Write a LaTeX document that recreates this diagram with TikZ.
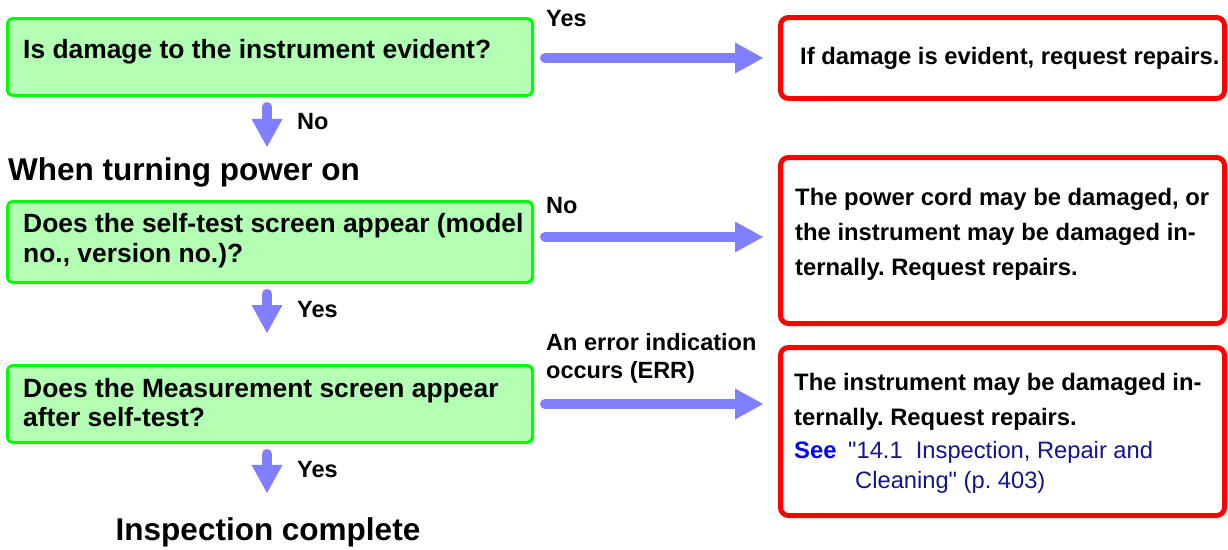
\documentclass[tikz,border=0pt]{standalone}
\usepackage{fontspec}
\setmainfont{Liberation Sans}
\newfontfamily\reffont{Liberation Sans}[Ligatures=TeXOff]
\usetikzlibrary{arrows.meta,calc}
\definecolor{boxgreen}{RGB}{0,255,0}
\definecolor{fillgreen}{RGB}{179,255,179}
\definecolor{arrowblue}{RGB}{128,128,255}
\definecolor{seeblue}{RGB}{0,0,255}
\definecolor{refnavy}{RGB}{20,20,140}
\frenchspacing
\begin{document}
\begin{tikzpicture}[x=1pt,y=-1pt,
  qbox/.style={draw=boxgreen,fill=fillgreen,line width=3pt,rounded corners=5pt,inner sep=0pt},
  abox/.style={draw=red,line width=5pt,rounded corners=8pt,inner sep=0pt},
  flow/.style={draw=arrowblue,line width=10pt,line cap=round,
    -{Triangle[length=28pt,width=31pt,line width=0pt,fill=arrowblue]}},
  qtext/.style={font=\fontsize{26.4}{30}\selectfont\bfseries,anchor=base west,inner sep=0pt},
  atext/.style={font=\fontsize{23.8}{28}\selectfont\bfseries,anchor=base west,inner sep=0pt},
  lbl/.style={font=\fontsize{23.5}{28}\selectfont\bfseries,anchor=base west,inner sep=0pt},
  headtext/.style={font=\fontsize{31.5}{36}\selectfont\bfseries,inner sep=0pt},
  reftext/.style={font=\reffont\fontsize{23.7}{28}\selectfont,text=refnavy,anchor=base west,inner sep=0pt}]
\fill[white] (0,0) rectangle (1228,549);
\useasboundingbox (0,0) rectangle (1228,549);

% question boxes
\node[qbox,minimum width=525pt,minimum height=77pt] (g1) at (270,57) {};
\node[qbox,minimum width=525pt,minimum height=81pt] (g2) at (270,242) {};
\node[qbox,minimum width=525pt,minimum height=77pt] (g3) at (270,404) {};

% answer boxes
\node[abox,minimum width=444pt,minimum height=81pt] (r1) at (1002.5,58) {};
\node[abox,minimum width=444pt,minimum height=166pt] (r2) at (1002.5,240.5) {};
\node[abox,minimum width=444pt,minimum height=168pt] (r3) at (1002.5,431.5) {};

% question texts
\node[qtext] (g1a) at (23,58) {Is damage to the instrument evident?};
\node[qtext] (g2a) at (23,232) {Does the self-test screen appear (model};
\node[qtext] (g2b) at (23,262) {no., version no.)?};
\node[qtext] (g3a) at (23,397) {Does the Measurement screen appear};
\node[qtext] (g3b) at (23,426) {after self-test?};

% answer texts
\node[atext] (r1a) at (800,64) {If damage is evident, request repairs.};
\node[atext] (r2a) at (795,205) {The power cord may be damaged, or};
\node[atext] (r2b) at (795,240) {the instrument may be damaged in-};
\node[atext] (r2c) at (795,275) {ternally. Request repairs.};
\node[atext] (r3a) at (794,390) {The instrument may be damaged in-};
\node[atext] (r3b) at (794,425) {ternally. Request repairs.};
\node[atext,text=seeblue] (see) at (794,458) {See};
\node[reftext] (ref1) at (848,458) {"14.1\ \ Inspection, Repair and};
\node[reftext] (ref2) at (855,488) {Cleaning" (p. 403)};

% headings
\node[headtext,anchor=base west] (h1) at (8,180) {When turning power on};
\node[headtext,anchor=base] (h2) at (268,540) {Inspection complete};

% labels
\node[lbl] (l1) at (546,26) {Yes};
\node[lbl] (l2) at (297,129) {No};
\node[lbl] (l3) at (546,213) {No};
\node[lbl] (l4) at (297,317) {Yes};
\node[lbl] (l5a) at (546,350) {An error indication};
\node[lbl] (l5b) at (546,378) {occurs (ERR)};
\node[lbl] (l6) at (297,477) {Yes};

% horizontal connectors
\coordinate (a1) at ([yshift=-1pt]g1.east);
\coordinate (a2) at ([yshift=5pt]g2.east);
\coordinate (a3) at (g3.east);
\draw[flow,shorten <=11pt,shorten >=15pt] (a1) -- (a1 -| r1.west);
\draw[flow,shorten <=11pt,shorten >=15pt] (a2) -- (a2 -| r2.west);
\draw[flow,shorten <=11pt,shorten >=15pt] (a3) -- (a3 -| r3.west);

% vertical connectors
\coordinate (col) at (267,0);
\draw[flow,shorten <=10pt,shorten >=10pt] (g1.south -| col) -- (h1.north -| col);
\draw[flow,shorten <=10pt,shorten >=31pt] (g2.south -| col) -- (g3.north -| col);
\draw[flow,shorten <=10pt,shorten >=24pt] (g3.south -| col) -- (h2.north -| col);
\end{tikzpicture}
\end{document}
